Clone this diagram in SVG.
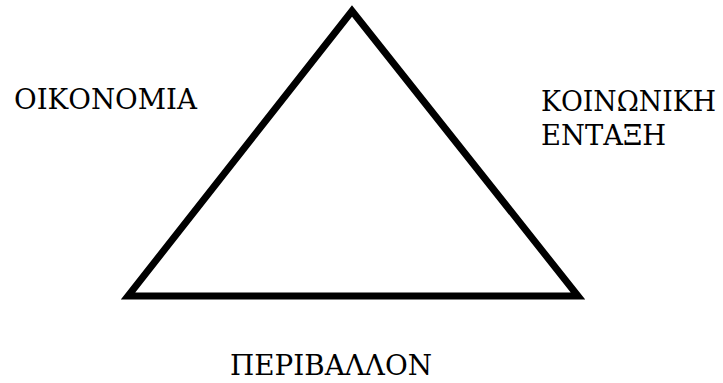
<svg xmlns="http://www.w3.org/2000/svg" width="723" height="383" viewBox="0 0 723 383">
<style>
.t{font-family:"DejaVu Serif","Liberation Serif",serif;font-size:27px;fill:#000}
</style>
<rect width="723" height="383" fill="#fff"/>
<g id="triangle">
<polygon points="352,11 128,296 578,296" fill="none" stroke="#000" stroke-width="7" stroke-linejoin="miter"/>
</g>
<g id="economy"><text class="t" x="14" y="108.5" textLength="183" lengthAdjust="spacingAndGlyphs">ΟΙΚΟΝΟΜΙΑ</text></g>
<g id="social"><text class="t" x="541" y="110.5" textLength="175" lengthAdjust="spacingAndGlyphs">ΚΟΙΝΩΝΙΚΗ</text><text class="t" x="541" y="145" textLength="125" lengthAdjust="spacingAndGlyphs">ΕΝΤΑΞΗ</text></g>
<g id="environment"><text class="t" x="230" y="375" textLength="202" lengthAdjust="spacingAndGlyphs">ΠΕΡΙΒΑΛΛΟΝ</text></g>
<g id="connectors"/>
</svg>
